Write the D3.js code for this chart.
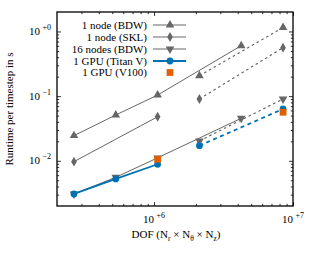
<!DOCTYPE html>
<html><head><meta charset="utf-8">
<script src="https://cdn.jsdelivr.net/npm/d3@7/dist/d3.min.js"></script>
<style>
html,body{margin:0;padding:0;background:#fff;}
svg{display:block;font-family:"Liberation Serif","Times New Roman",serif;}
</style></head><body>
<svg id="c" width="314" height="256"></svg>
<script>
// ---- data ----
const bdwSolidX = [2.65e5, 5.3e5, 1.06e6, 4.24e6];
const bdwSolidY = [0.0245, 0.0511, 0.104, 0.603];
const bdwDashX = [2.12e6, 8.48e6];
const bdwDashY = [0.207, 1.15];
const sklSolidX = [2.65e5, 1.06e6];
const sklSolidY = [0.0097, 0.048];
const sklDashX = [2.12e6, 8.48e6];
const sklDashY = [0.0904, 0.562];
const n16SolidX = [2.65e5, 5.3e5, 1.06e6, 4.24e6];
const n16SolidY = [0.00307, 0.00556, 0.0111, 0.0455];
const n16DashX = [2.12e6, 8.48e6];
const n16DashY = [0.0203, 0.0904];
const titanSolidX = [2.65e5, 5.3e5, 1.06e6];
const titanSolidY = [0.00307, 0.00524, 0.00884];
const titanDashX = [2.12e6, 8.48e6];
const titanDashY = [0.01714, 0.0633];
const v100X = [1.06e6, 8.48e6];
const v100Y = [0.01056, 0.0563];
const legendLabels = ["1 node (BDW)", "1 node (SKL)", "16 nodes (BDW)", "1 GPU (Titan V)", "1 GPU (V100)"];
const xMajor = [1e6, 1e7];
const xMajorLabels = ["+6", "+7"];
const yMajor = [1e-2, 1e-1, 1e0];
const yMajorLabels = ["\u22122", "\u22121", "+0"];

const gray = "#666666", blue = "#0072b2", orange = "#e06000";
const svg = d3.select("#c");
const L = 57, R = 293, T = 12, B = 206;
const x = d3.scaleLog().domain([2e5, 1e7]).range([L, R]);
const y = d3.scaleLog().domain([2e-3, 2]).range([B, T]);

function minors(lo, hi) {
  const out = [];
  for (let e = Math.floor(Math.log10(lo)); e <= Math.ceil(Math.log10(hi)); e++) {
    for (let m = 2; m <= 9; m++) { const v = m * Math.pow(10, e); if (v > lo * 1.0001 && v < hi * 0.9999) out.push(v); }
  }
  return out;
}
const xMinor = minors(2e5, 1e7), yMinor = minors(2e-3, 2);

function axisG(axis, tr) {
  const g = svg.append("g").attr("transform", tr).call(axis);
  g.select(".domain").remove();
  g.selectAll("text").remove();
  g.selectAll("line").attr("stroke", "#000").attr("stroke-width", 0.8);
}
const maj = 4, mnr = 2.2;
axisG(d3.axisBottom(x).tickValues(xMajor).tickSize(-maj).tickSizeOuter(0), `translate(0,${B})`);
axisG(d3.axisBottom(x).tickValues(xMinor).tickSize(-mnr).tickSizeOuter(0), `translate(0,${B})`);
axisG(d3.axisTop(x).tickValues(xMajor).tickSize(-maj).tickSizeOuter(0), `translate(0,${T})`);
axisG(d3.axisTop(x).tickValues(xMinor).tickSize(-mnr).tickSizeOuter(0), `translate(0,${T})`);
axisG(d3.axisLeft(y).tickValues(yMajor).tickSize(-maj).tickSizeOuter(0), `translate(${L},0)`);
axisG(d3.axisLeft(y).tickValues(yMinor).tickSize(-mnr).tickSizeOuter(0), `translate(${L},0)`);
axisG(d3.axisRight(y).tickValues(yMajor).tickSize(-maj).tickSizeOuter(0), `translate(${R},0)`);
axisG(d3.axisRight(y).tickValues(yMinor).tickSize(-mnr).tickSizeOuter(0), `translate(${R},0)`);

svg.append("rect").attr("x", L).attr("y", T).attr("width", R - L).attr("height", B - T)
  .attr("fill", "none").attr("stroke", "#000").attr("stroke-width", 1.3);

// tick labels
xMajor.forEach((v, i) => {
  const t = svg.append("text").attr("x", x(v)).attr("y", 223).attr("text-anchor", "middle").attr("font-size", 11);
  t.append("tspan").text("10");
  t.append("tspan").attr("dy", -5).attr("dx", 2.5).attr("font-size", 8).text(xMajorLabels[i]);
});
yMajor.forEach((v, i) => {
  const t = svg.append("text").attr("x", 51).attr("y", y(v) + 3.5).attr("text-anchor", "end").attr("font-size", 11);
  t.append("tspan").text("10");
  t.append("tspan").attr("dy", -5).attr("dx", 2.5).attr("font-size", 8).text(yMajorLabels[i]);
});

// axis titles
svg.append("text").attr("transform", `translate(13,${(T + B) / 2}) rotate(-90)`)
  .attr("text-anchor", "middle").attr("font-size", 11).text("Runtime per timestep in s");
const xl = svg.append("text").attr("x", (L + R) / 2 + 1).attr("y", 238).attr("text-anchor", "middle").attr("font-size", 11);
xl.append("tspan").text("DOF (N");
xl.append("tspan").attr("font-size", 7.5).attr("dy", 2.5).text("r");
xl.append("tspan").attr("dy", -2.5).text(" \u00d7 N");
xl.append("tspan").attr("font-size", 7.5).attr("dy", 2.5).text("\u03b8");
xl.append("tspan").attr("dy", -2.5).text(" \u00d7 N");
xl.append("tspan").attr("font-size", 7.5).attr("dy", 2.5).text("z");
xl.append("tspan").attr("dy", -2.5).text(")");

// series
const line = d3.line().x(d => x(d[0])).y(d => y(d[1]));
const zip = (a, b) => a.map((v, i) => [v, b[i]]);
const sym = {
  up: d3.symbol().type(d3.symbolTriangle).size(32),
  dia: d3.symbol().type(d3.symbolDiamond).size(28),
  down: d3.symbol().type(d3.symbolTriangle).size(32),
  circ: d3.symbol().type(d3.symbolCircle).size(36),
  sq: d3.symbol().type(d3.symbolSquare).size(46)
};
function drawLine(xs, ys, color, w, dash) {
  svg.append("path").datum(zip(xs, ys)).attr("d", line).attr("fill", "none")
    .attr("stroke", color).attr("stroke-width", w).attr("stroke-dasharray", dash || null);
}
function drawMarks(xs, ys, s, color, rot) {
  svg.append("g").selectAll("path").data(zip(xs, ys)).join("path")
    .attr("d", s).attr("fill", color)
    .attr("transform", d => `translate(${x(d[0])},${y(d[1])}) rotate(${rot || 0})`);
}
const gd = "2.5,3", bd = "4,3.5";
drawLine(n16SolidX, n16SolidY, gray, 1);
drawLine(n16DashX, n16DashY, gray, 1.2, gd);
drawLine(titanSolidX, titanSolidY, blue, 1.8);
drawLine(titanDashX, titanDashY, blue, 1.8, bd);
drawLine(bdwSolidX, bdwSolidY, gray, 1);
drawLine(bdwDashX, bdwDashY, gray, 1.2, gd);
drawLine(sklSolidX, sklSolidY, gray, 1);
drawLine(sklDashX, sklDashY, gray, 1.2, gd);
drawMarks(bdwSolidX, bdwSolidY, sym.up, gray);
drawMarks(bdwDashX, bdwDashY, sym.up, gray);
drawMarks(sklSolidX, sklSolidY, sym.dia, gray);
drawMarks(sklDashX, sklDashY, sym.dia, gray);
drawMarks(n16SolidX, n16SolidY, sym.down, gray, 180);
drawMarks(n16DashX, n16DashY, sym.down, gray, 180);
drawMarks(titanSolidX, titanSolidY, sym.circ, blue);
drawMarks(titanDashX, titanDashY, sym.circ, blue);
drawMarks(v100X, v100Y, sym.sq, orange);

// legend
const legY = [25, 37, 49, 61, 72.5];
const legStyle = [
  {c: gray, w: 1, s: sym.up, r: 0, line: true},
  {c: gray, w: 1, s: sym.dia, r: 0, line: true},
  {c: gray, w: 1, s: sym.down, r: 180, line: true},
  {c: blue, w: 1.8, s: sym.circ, r: 0, line: true},
  {c: orange, w: 0, s: sym.sq, r: 0, line: false}
];
legendLabels.forEach((lab, i) => {
  const st = legStyle[i], yy = legY[i];
  svg.append("text").attr("x", 147).attr("y", yy + 3.8).attr("text-anchor", "end").attr("font-size", 11).text(lab);
  if (st.line) svg.append("line").attr("x1", 153).attr("x2", 186).attr("y1", yy).attr("y2", yy)
    .attr("stroke", st.c).attr("stroke-width", st.w);
  svg.append("path").attr("d", st.s).attr("fill", st.c).attr("transform", `translate(170,${yy}) rotate(${st.r})`);
});
</script>
</body></html>
